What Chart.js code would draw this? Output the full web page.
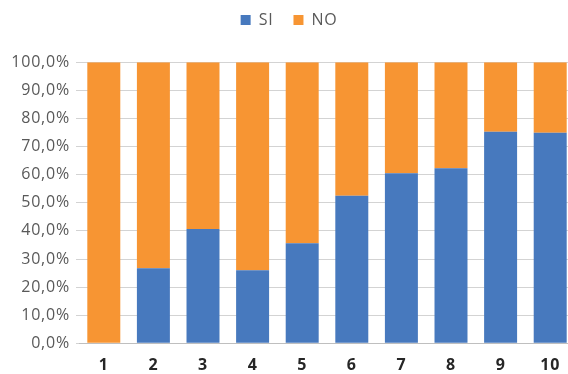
<!DOCTYPE html>
<html>
<head>
<meta charset="utf-8">
<script src="https://cdn.jsdelivr.net/npm/chart.js@4/dist/chart.umd.min.js"></script>
<style>
  html, body { margin: 0; padding: 0; background: #ffffff; }
  #wrap { width: 568px; height: 374px; overflow: hidden; }
</style>
</head>
<body>
<div id="wrap"><canvas id="c" width="568" height="374"></canvas></div>
<script>
// Categories and the share of answers per category (percent)
const categories = ['1', '2', '3', '4', '5', '6', '7', '8', '9', '10'];
const siValues = [0, 26.7, 40.7, 26.0, 35.6, 52.5, 60.5, 62.3, 75.3, 74.9];
const noValues = [100, 73.3, 59.3, 74.0, 64.4, 47.5, 39.5, 37.7, 24.7, 25.1];
const seriesNames = ['SI', 'NO'];

const fontFamily = '"Open Sans", "Noto Sans", sans-serif';

// Plot frame: the category axis runs a little past the right edge of the canvas
const plotFrame = { left: 79, right: 575, top: 62.3, bottom: 343.3 };

// Slightly wider text spacing for all labels drawn on the canvas
const textSpacing = {
  id: 'textSpacing',
  beforeInit(chart) { chart.ctx.letterSpacing = '0.8px'; },
  beforeDraw(chart) { chart.ctx.letterSpacing = '0.8px'; }
};

// Pin the plot area and both axes to the frame above
const fixedFrame = {
  id: 'fixedFrame',
  afterLayout(chart) {
    const a = chart.chartArea;
    a.left = plotFrame.left; a.right = plotFrame.right;
    a.top = plotFrame.top; a.bottom = plotFrame.bottom;
    a.width = a.right - a.left; a.height = a.bottom - a.top;

    const x = chart.scales.x;
    x.left = a.left; x.right = a.right; x.width = a.width;
    x.top = a.bottom; x.bottom = chart.height; x.height = x.bottom - x.top;
    x.configure();

    const y = chart.scales.y;
    y.left = 0; y.right = a.left; y.width = a.left;
    y.top = a.top; y.bottom = a.bottom; y.height = a.height;
    y.configure();
  }
};

new Chart(document.getElementById('c'), {
  type: 'bar',
  data: {
    labels: categories,
    datasets: [
      { label: seriesNames[0], data: siValues, backgroundColor: '#4779BE', borderWidth: 0 },
      { label: seriesNames[1], data: noValues, backgroundColor: '#F79533', borderWidth: 0 }
    ]
  },
  plugins: [textSpacing, fixedFrame],
  options: {
    responsive: false,
    animation: false,
    layout: { padding: { left: 0, right: -7, top: -8, bottom: 0 } },
    datasets: { bar: { barPercentage: 0.665, categoryPercentage: 1.0 } },
    plugins: {
      legend: {
        position: 'top',
        labels: {
          boxWidth: 10,
          boxHeight: 10,
          padding: 20,
          color: '#595959',
          font: { family: fontFamily, size: 16 }
        }
      },
      tooltip: { enabled: false }
    },
    scales: {
      x: {
        stacked: true,
        grid: { display: false, drawTicks: false },
        border: { display: true, color: '#BFBFBF', width: 1 },
        ticks: {
          color: '#262626',
          padding: 13,
          font: { family: fontFamily, size: 16, weight: 'bold' }
        }
      },
      y: {
        stacked: true,
        min: 0,
        max: 100,
        grid: { color: '#D3D3D3', drawTicks: true, tickLength: 3, lineWidth: 1 },
        border: { display: false },
        ticks: {
          stepSize: 10,
          padding: 6,
          color: '#595959',
          font: { family: fontFamily, size: 16 },
          callback: (v) => v.toFixed(1).replace('.', ',') + '%'
        }
      }
    }
  }
});
</script>
</body>
</html>
